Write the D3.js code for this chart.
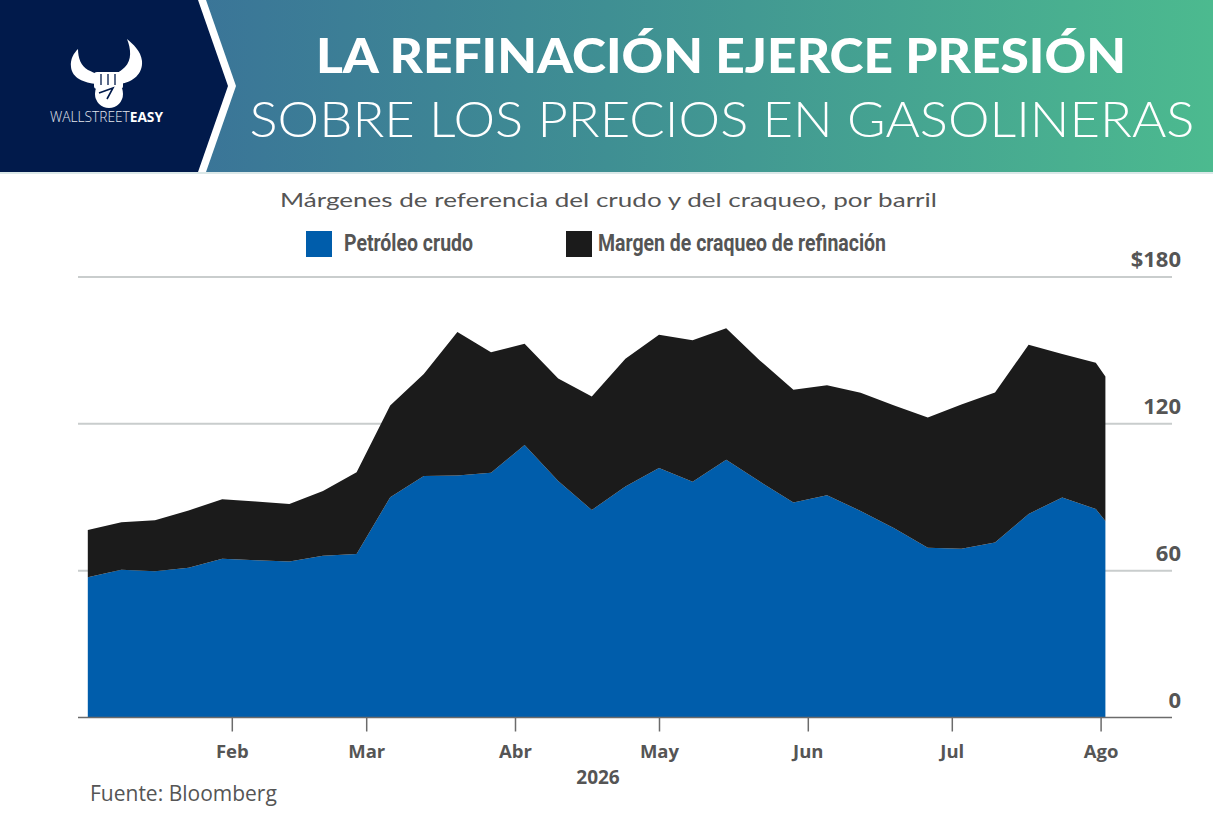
<!DOCTYPE html>
<html>
<head>
<meta charset="utf-8">
<script src="https://cdn.jsdelivr.net/npm/d3@7"></script>
<style>
  body { margin: 0; background: #fff; }
  svg { display: block; }
</style>
</head>
<body>
<div id="chart"></div>
<script>
// Weekly readings, 2026 (USD per barrel)
const dates = ["2026-01-02","2026-01-09","2026-01-16","2026-01-23","2026-01-30",
  "2026-02-06","2026-02-13","2026-02-20","2026-02-27",
  "2026-03-06","2026-03-13","2026-03-20","2026-03-27",
  "2026-04-03","2026-04-10","2026-04-17","2026-04-24",
  "2026-05-01","2026-05-08","2026-05-15","2026-05-22","2026-05-29",
  "2026-06-05","2026-06-12","2026-06-19","2026-06-26",
  "2026-07-03","2026-07-10","2026-07-17","2026-07-24","2026-07-31","2026-08-02"];

const crude = [57.3, 60.4, 59.8, 61.2, 64.9, 64.3, 63.7, 66.1, 66.8, 90.0, 98.7, 98.9,
  100.0, 111.4, 96.6, 84.8, 94.4, 102.0, 96.3, 105.3, 96.4, 87.9, 90.8, 84.4,
  77.3, 69.4, 69.0, 71.5, 83.2, 89.9, 85.2, 80.3];

const crack = [19.3, 19.4, 20.8, 23.4, 24.3, 24.0, 23.5, 26.5, 33.4, 37.5, 41.7, 58.6,
  49.3, 41.3, 41.9, 46.4, 52.2, 54.4, 57.9, 53.8, 49.5, 46.0, 45.0, 48.3,
  50.2, 53.2, 58.9, 61.3, 69.1, 58.6, 59.8, 59.0];

const seriesKeys = ["crude", "crack"];
const seriesNames = ["Petróleo crudo", "Margen de craqueo de refinación"];
const seriesColors = ["#005dab", "#1b1b1b"];

const yTicks = [0, 60, 120, 180];
const monthTicks = ["2026-02-01","2026-03-01","2026-04-01","2026-05-01","2026-06-01","2026-07-01","2026-08-01"];
const monthLabels = ["Feb", "Mar", "Abr", "May", "Jun", "Jul", "Ago"];

const W = 1213, H = 834;
const svg = d3.select("#chart").append("svg")
    .attr("width", W).attr("height", H);

// ---------- header ----------
const defs = svg.append("defs");
const grad = defs.append("linearGradient").attr("id", "hdr")
    .attr("x1", "0%").attr("x2", "100%").attr("y1", "0%").attr("y2", "0%");
grad.append("stop").attr("offset", "0%").attr("stop-color", "#38689a");
grad.append("stop").attr("offset", "50%").attr("stop-color", "#3f8f93");
grad.append("stop").attr("offset", "100%").attr("stop-color", "#4cba8f");

svg.append("rect").attr("x", 0).attr("y", 0).attr("width", W).attr("height", 172)
    .attr("fill", "url(#hdr)");
svg.append("rect").attr("x", 0).attr("y", 172).attr("width", W).attr("height", 2)
    .attr("fill", "#dbe8e8");
svg.append("polygon").attr("points", "0,0 206,0 236,86 206,172 0,172").attr("fill", "#fff");
svg.append("polygon").attr("points", "0,0 198,0 228,86 198,172 0,172").attr("fill", "#011a4b");

// logo
const logo = svg.append("g").attr("fill", "#fff");
logo.append("path").attr("d", "M97,84 C84,83 72,78 71,67 C70,59 74,53 78,49 C78,58 81,66 88,70 C92,72 95,73 97,74 Z");
logo.append("path").attr("d", "M120,84 C133,82 143,74 142,61 C141,51 133,44 127,39 C131,49 132,60 125,67 C122,70 119,72 117,73 Z");
logo.append("rect").attr("x", 94).attr("y", 72).attr("width", 29).attr("height", 17).attr("rx", 3);
logo.append("circle").attr("cx", 109).attr("cy", 94).attr("r", 14);
[101, 108, 115].forEach(x => logo.append("line")
    .attr("x1", x).attr("x2", x).attr("y1", 74).attr("y2", 85)
    .attr("stroke", "#011a4b").attr("stroke-width", 1.3));
logo.append("path").attr("d", "M99,93 L113,88 L107,99")
    .attr("fill", "none").attr("stroke", "#011a4b").attr("stroke-width", 1.6);
svg.append("text").attr("x", 50).attr("y", 122)
    .attr("font-family", "Open Sans").attr("font-size", 14).attr("fill", "#fff")
    .attr("textLength", 113).attr("lengthAdjust", "spacingAndGlyphs")
    .call(t => {
      t.append("tspan").attr("font-weight", 300).attr("fill", "#e4e8ef").text("WALLSTREET");
      t.append("tspan").attr("font-weight", 700).text("EASY");
    });

// titles
svg.append("text").attr("x", 721).attr("y", 73).attr("text-anchor", "middle")
    .attr("font-family", "Lato").attr("font-weight", 900).attr("font-size", 48)
    .attr("fill", "#fff").attr("textLength", 810).attr("lengthAdjust", "spacingAndGlyphs")
    .text("LA REFINACIÓN EJERCE PRESIÓN");
svg.append("text").attr("x", 722).attr("y", 137).attr("text-anchor", "middle")
    .attr("font-family", "Lato").attr("font-weight", 300).attr("font-size", 50)
    .attr("fill", "#fff").attr("textLength", 945).attr("lengthAdjust", "spacingAndGlyphs")
    .text("SOBRE LOS PRECIOS EN GASOLINERAS");

// subtitle
svg.append("text").attr("x", 280).attr("y", 207)
    .attr("font-family", "Lato").attr("font-size", 20).attr("fill", "#555")
    .attr("textLength", 657).attr("lengthAdjust", "spacingAndGlyphs")
    .text("Márgenes de referencia del crudo y del craqueo, por barril");

// legend
const legendX = [306, 566], legendTextX = [344, 598], legendW = [129, 288];
seriesNames.forEach((name, i) => {
  svg.append("rect").attr("x", legendX[i]).attr("y", 231).attr("width", 26).attr("height", 26)
      .attr("fill", seriesColors[i]);
  svg.append("text").attr("x", legendTextX[i]).attr("y", 251)
      .attr("font-family", "Roboto").attr("font-weight", 700).attr("font-size", 24)
      .attr("fill", "#555").attr("textLength", legendW[i]).attr("lengthAdjust", "spacingAndGlyphs")
      .text(name);
});

// ---------- chart ----------
const parse = d3.utcParse("%Y-%m-%d");
const table = dates.map((d, i) => ({date: parse(d), crude: crude[i], crack: crack[i]}));

const x = d3.scaleUtc()
    .domain([parse("2026-01-01"), parse("2026-08-01")])
    .range([83, 1100.6]);
const y = d3.scaleLinear().domain([0, 180]).range([717.5, 277]);

// gridlines + right labels
const grid = svg.append("g");
grid.selectAll("line").data(yTicks.filter(v => v > 0)).join("line")
    .attr("x1", 78).attr("x2", 1172)
    .attr("y1", d => y(d)).attr("y2", d => y(d))
    .attr("stroke", "#c9cdcd").attr("stroke-width", 2);
grid.selectAll("text").data(yTicks).join("text")
    .attr("x", 1181).attr("y", d => y(d) - 10).attr("text-anchor", "end")
    .attr("font-family", "Open Sans").attr("font-weight", 700).attr("font-size", 22)
    .attr("fill", "#555")
    .text(d => d === 180 ? "$180" : d);

// stacked areas
const stacked = d3.stack().keys(seriesKeys)(table);
const area = d3.area()
    .x(d => x(d.data.date))
    .y0(d => y(d[0]))
    .y1(d => y(d[1]));
svg.append("g").selectAll("path").data(stacked).join("path")
    .attr("fill", (d, i) => seriesColors[i])
    .attr("d", area);

// x axis
const xAxis = svg.append("g").attr("transform", `translate(0,${y(0)})`)
    .call(d3.axisBottom(x)
        .tickValues(monthTicks.map(parse))
        .tickFormat((d, i) => monthLabels[i])
        .tickSize(14).tickPadding(13));
xAxis.select(".domain").remove();
xAxis.append("line").attr("x1", 78).attr("x2", 1172)
    .attr("stroke", "#6b6b6b").attr("stroke-width", 1.5);
xAxis.selectAll(".tick line").attr("stroke", "#6b6b6b").attr("stroke-width", 1.5);
xAxis.selectAll(".tick text")
    .attr("font-family", "Open Sans").attr("font-weight", 700).attr("font-size", 18.5)
    .attr("fill", "#555");

svg.append("text").attr("x", 598).attr("y", 784).attr("text-anchor", "middle")
    .attr("font-family", "Open Sans").attr("font-weight", 700).attr("font-size", 19)
    .attr("fill", "#555").text("2026");

svg.append("text").attr("x", 90).attr("y", 801)
    .attr("font-family", "Open Sans").attr("font-size", 21).attr("fill", "#555")
    .text("Fuente: Bloomberg");
</script>
</body>
</html>
